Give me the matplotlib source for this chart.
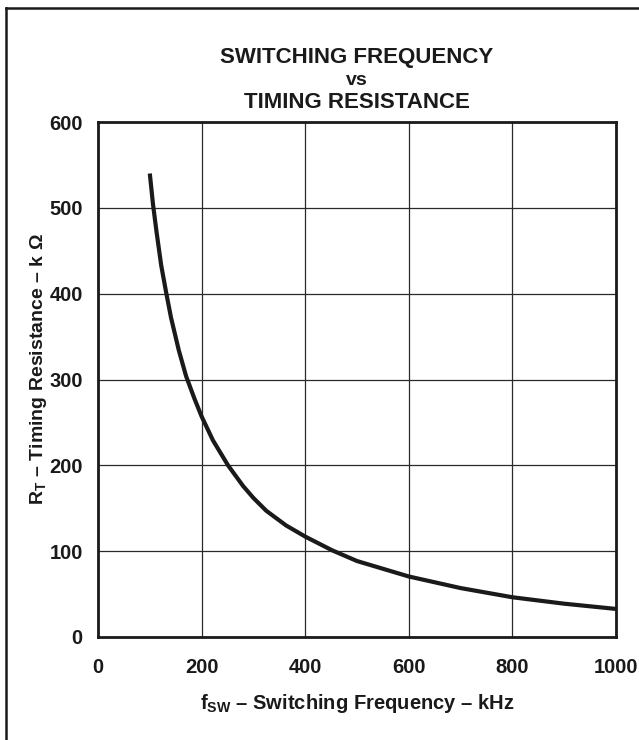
# plot.py
# Switching frequency vs timing resistance curve (datasheet style)

import matplotlib
matplotlib.use('Agg')
import matplotlib.pyplot as plt
from matplotlib.lines import Line2D

# Values
freqKHz = [100, 106, 113, 122, 132, 141, 156, 170, 186, 200, 222, 251, 280, 300,
           325, 363, 400, 452, 500, 600, 700, 800, 900, 1000]
rtKOhm = [540, 505, 472, 433, 400, 372, 334, 304, 278, 257, 229, 200, 176, 162,
          147, 130, 117, 101, 88.5, 70.5, 57, 46.3, 38.8, 32.7]

xTicks = [0, 200, 400, 600, 800, 1000]
yTicks = [0, 100, 200, 300, 400, 500, 600]
titleLines = ['SWITCHING FREQUENCY', 'vs', 'TIMING RESISTANCE']

plt.rcParams['font.family'] = ['Liberation Sans', 'DejaVu Sans']
plt.rcParams['font.weight'] = 'bold'
plt.rcParams['mathtext.fontset'] = 'custom'
plt.rcParams['mathtext.rm'] = 'Liberation Sans:bold'
plt.rcParams['mathtext.it'] = 'Liberation Sans:bold'
plt.rcParams['mathtext.bf'] = 'Liberation Sans:bold'

ink = '#1a1a1a'
W, H = 639, 740
fig = plt.figure( figsize=(W/100.0, H/100.0), dpi=100 )
fig.patch.set_facecolor( 'white' )

# Frame of the picture: only the top and left edges are drawn
frameX, frameY = 6.0/W, 1 - 8.0/H
fig.lines.append( Line2D( [frameX, 1.0], [frameY, frameY], transform=fig.transFigure,
                          color=ink, linewidth=1.8 ) )
fig.lines.append( Line2D( [frameX, frameX], [0.0, frameY], transform=fig.transFigure,
                          color=ink, linewidth=1.8 ) )

# Axes box in pixel coordinates of the reference
left, right, top, bottom = 98, 616, 122, 637
ax = fig.add_axes( [left/W, 1 - bottom/H, (right - left)/W, (bottom - top)/H] )

ax.plot( freqKHz, rtKOhm, color=ink, linewidth=3.0, solid_capstyle='butt',
         solid_joinstyle='round', zorder=3 )

ax.set_xlim( 0, 1000 )
ax.set_ylim( 0, 600 )
ax.set_xticks( xTicks )
ax.set_yticks( yTicks )
ax.grid( True, color='#2a2a2a', linewidth=0.9 )
ax.set_axisbelow( True )
ax.tick_params( axis='both', length=0, labelsize=14.5, colors=ink )
ax.tick_params( axis='x', pad=15 )
ax.tick_params( axis='y', pad=11 )
for label in ax.get_xticklabels() + ax.get_yticklabels():
  label.set_fontweight( 'bold' )
for spine in ax.spines.values():
  spine.set_linewidth( 2.0 )
  spine.set_color( ink )

ax.set_xlabel( r'f$_{\mathrm{SW}}$ – Switching Frequency – kHz', fontsize=14.5, fontweight='bold',
               color=ink, labelpad=11 )
ax.set_ylabel( r'R$_{\mathrm{T}}$ – Timing Resistance – k $\Omega$', fontsize=14, fontweight='bold',
               color=ink, va='center' )
# The label sits a little above the middle of the axis in the reference
ax.yaxis.set_label_coords( (39.0 - left)/(right - left), 0.52 )

# Three line title, centred over the axes
centre = (left + right)/2.0/W
for text, baseline, size in zip( titleLines, (63, 85, 108), (16, 14, 16) ):
  fig.text( centre, 1 - baseline/float(H), text, ha='center', va='baseline',
            fontsize=size, fontweight='bold', color=ink )

fig.savefig( 'out.png', dpi=100 )
